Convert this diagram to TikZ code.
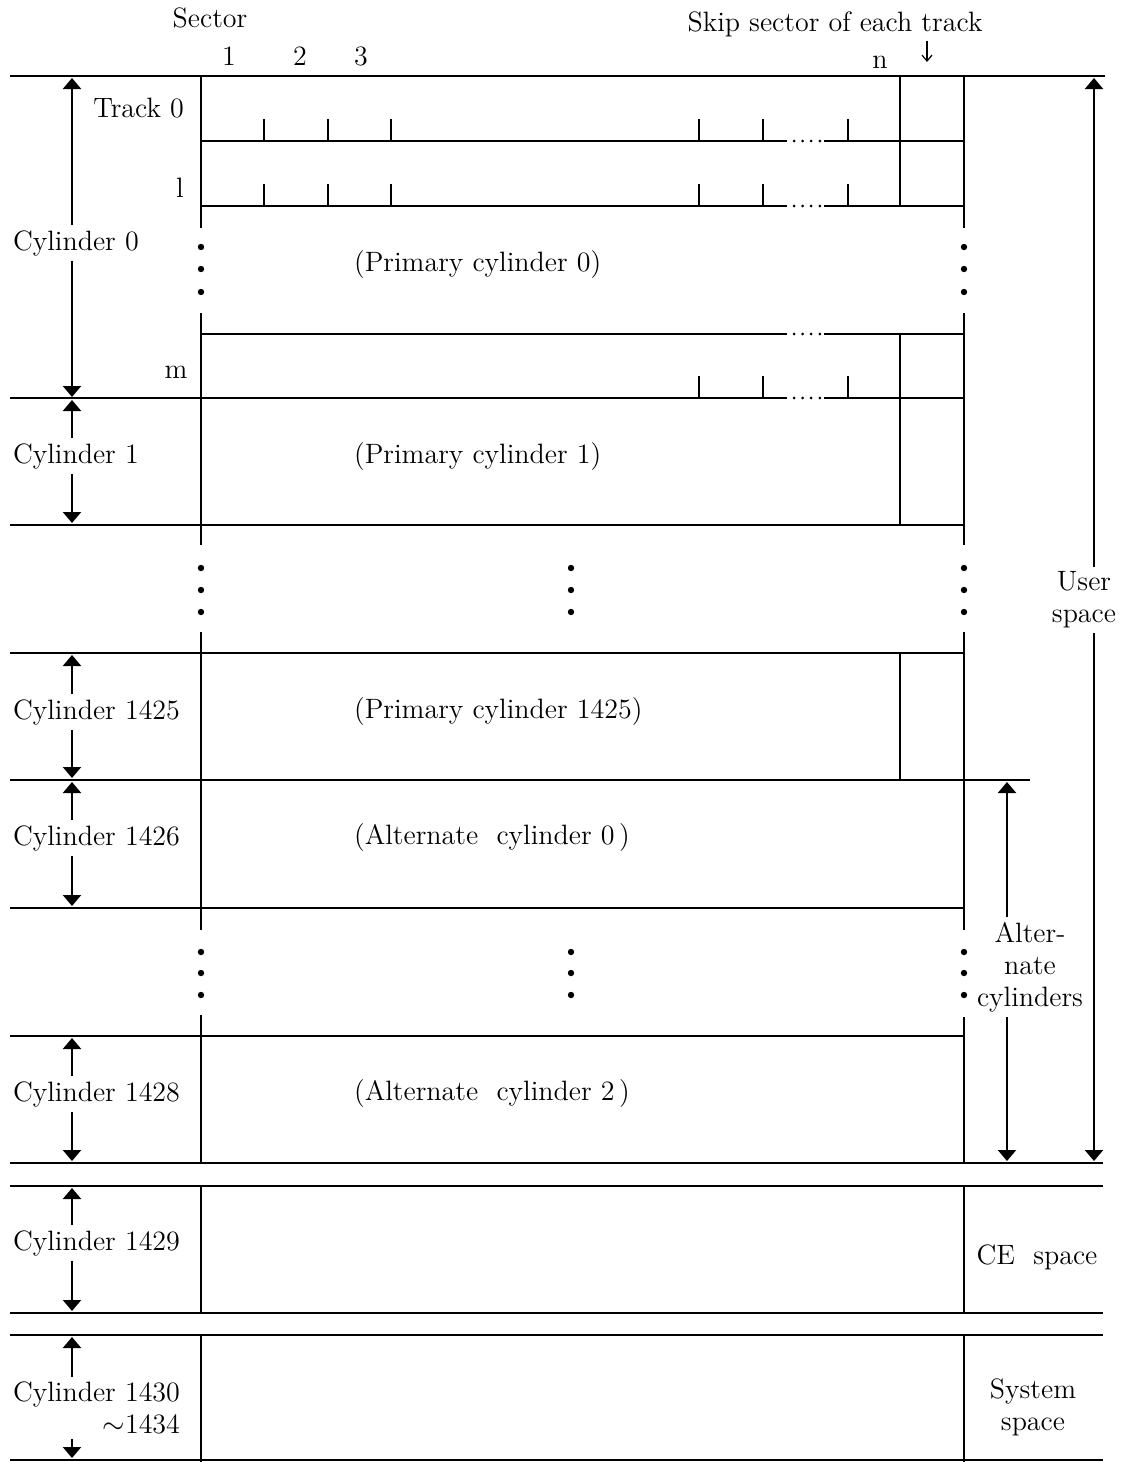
\documentclass[tikz,border=0pt]{standalone}
\usetikzlibrary{arrows.meta}
\begin{document}
\begin{tikzpicture}[x=0.5pt,y=-0.5pt,line width=1.1pt,
  every node/.style={font=\fontsize{14}{16}\selectfont,inner sep=1.5pt},
  arr/.style={-{Triangle[length=5.5pt,width=9pt]}},
  smallarr/.style={line width=0.6pt,-{Straight Barb[length=3pt,width=5pt]}},
  gapdots/.style={line width=1.5pt,line cap=round,dash pattern=on 0pt off 4.3pt},
  cyl/.style={anchor=west,inner sep=2pt},
  mid/.style={anchor=west,inner sep=0pt},
  side/.style={align=center,inner sep=2pt,font=\fontsize{14}{16}\selectfont}]
\useasboundingbox (0,0) rectangle (1125,1462);
\fill[white] (0,0) rectangle (1125,1462);
\coordinate (ax) at (72,0);
\coordinate (ux) at (1094,0);
\coordinate (altx) at (1007,0);
\coordinate (skx) at (927,0);

% ---------- headings ----------
\node (sector) at (210,18) {Sector};
\node (s1) at (229,56) {1};
\node (s2) at (300,56) {2};
\node (s3) at (361,56) {3};
\node (sn) at (880,62) {n};
\node (skip) at (835,24) {Skip sector of each track};
\coordinate (skipend) at (927,62);
\draw[smallarr] (skip.south -| skx) -- (skipend);

% ---------- horizontal lines ----------
\draw (10,76) -- (1105,76);
% track 0 and 1
\foreach \y in {141,206}{
  \draw (201,\y) -- (787,\y);
  \draw[gapdots] (794,\y) -- (820,\y);
  \draw (824,\y) -- (964,\y);
  \foreach \x in {264,328,391,699,763,848}{\draw (\x,\y-22) -- (\x,\y);}
}
% track m
\draw (201,334) -- (787,334);
\draw[gapdots] (794,334) -- (820,334);
\draw (824,334) -- (964,334);
\draw (10,398) -- (787,398);
\draw[gapdots] (794,398) -- (820,398);
\draw (824,398) -- (964,398);
\foreach \x in {699,763,848}{\draw (\x,376) -- (\x,398);}
\draw (10,525) -- (964,525);
\draw (10,653) -- (964,653);
\draw (10,780) -- (1030,780);
\draw (10,908) -- (964,908);
\draw (10,1036) -- (964,1036);
\draw (10,1163) -- (1103,1163);
\draw (10,1186) -- (1103,1186);
\draw (10,1313) -- (1103,1313);
\draw (10,1335) -- (1103,1335);
\draw (10,1460) -- (1103,1460);

% ---------- vertical lines ----------
\draw (201,76) -- (201,228);
\draw (964,76) -- (964,228);
\draw (900,76) -- (900,206);
\draw (201,313) -- (201,545);
\draw (964,313) -- (964,545);
\draw (900,334) -- (900,525);
\draw (201,632) -- (201,930);
\draw (964,632) -- (964,930);
\draw (900,653) -- (900,780);
\draw (201,1015) -- (201,1163);
\draw (964,1017) -- (964,1163);
\draw (201,1186) -- (201,1313);
\draw (964,1186) -- (964,1313);
\draw (201,1335) -- (201,1462);
\draw (964,1335) -- (964,1462);

% ---------- vertical ellipses ----------
\foreach \x in {201,964}{\foreach \y in {247,269,292}{\fill (\x,\y) circle[radius=1.6pt];}}
\foreach \x in {201,571,964}{\foreach \y in {568,590,612}{\fill (\x,\y) circle[radius=1.6pt];}}
\foreach \x in {201,571,964}{\foreach \y in {952,973,995}{\fill (\x,\y) circle[radius=1.6pt];}}

% ---------- track labels ----------
\node[anchor=east] (t0) at (188,108) {Track 0};
\node (t1) at (180,188) {l};
\node (tm) at (176,372) {m};

% ---------- middle texts ----------
\node[mid] (p0) at (353,265) {(Primary cylinder 0)};
\node[mid] (p1) at (353,457) {(Primary cylinder 1)};
\node[mid] (p1425) at (353,712) {(Primary cylinder 1425)};
\node[mid] (a0) at (353,838) {(Alternate\ \ cylinder 0\,)};
\node[mid] (a2) at (353,1094) {(Alternate\ \ cylinder 2\,)};

% ---------- cylinder labels with arrows ----------
\node[cyl] (c0) at (8,243) {Cylinder 0};
\draw[arr] (c0.north -| ax) -- (72,78);
\draw[arr] (c0.south -| ax) -- (72,397);
\node[cyl] (c1) at (8,456) {Cylinder 1};
\draw[arr] (c1.north -| ax) -- (72,400);
\draw[arr] (c1.south -| ax) -- (72,523);
\node[cyl] (c1425) at (8,712) {Cylinder 1425};
\draw[arr] (c1425.north -| ax) -- (72,655);
\draw[arr] (c1425.south -| ax) -- (72,778);
\node[cyl] (c1426) at (8,838) {Cylinder 1426};
\draw[arr] (c1426.north -| ax) -- (72,782);
\draw[arr] (c1426.south -| ax) -- (72,906);
\node[cyl] (c1428) at (8,1094) {Cylinder 1428};
\draw[arr] (c1428.north -| ax) -- (72,1038);
\draw[arr] (c1428.south -| ax) -- (72,1161);
\node[cyl] (c1429) at (8,1243) {Cylinder 1429};
\draw[arr] (c1429.north -| ax) -- (72,1188);
\draw[arr] (c1429.south -| ax) -- (72,1311);
\node[cyl,align=right] (c1430) at (8,1408) {Cylinder 1430\\$\sim$1434};
\draw[arr] (c1430.north -| ax) -- (72,1337);
\draw[arr] (c1430.south -| ax) -- (72,1458);

% ---------- right side labels ----------
\node[side] (user) at (1084,600) {User\\space};
\draw[arr] (user.north -| ux) -- (1094,78);
\draw[arr] (user.south -| ux) -- (1094,1161);
\node[side] (alt) at (1030,967) {Alter-\\nate\\cylinders};
\draw[arr] (alt.north -| altx) -- (1007,782);
\draw[arr] (alt.south -| altx) -- (1007,1161);
\node[side] (ce) at (1037,1257) {CE\ \ space};
\node[side] (sys) at (1033,1407) {System\\space};
\end{tikzpicture}
\end{document}
